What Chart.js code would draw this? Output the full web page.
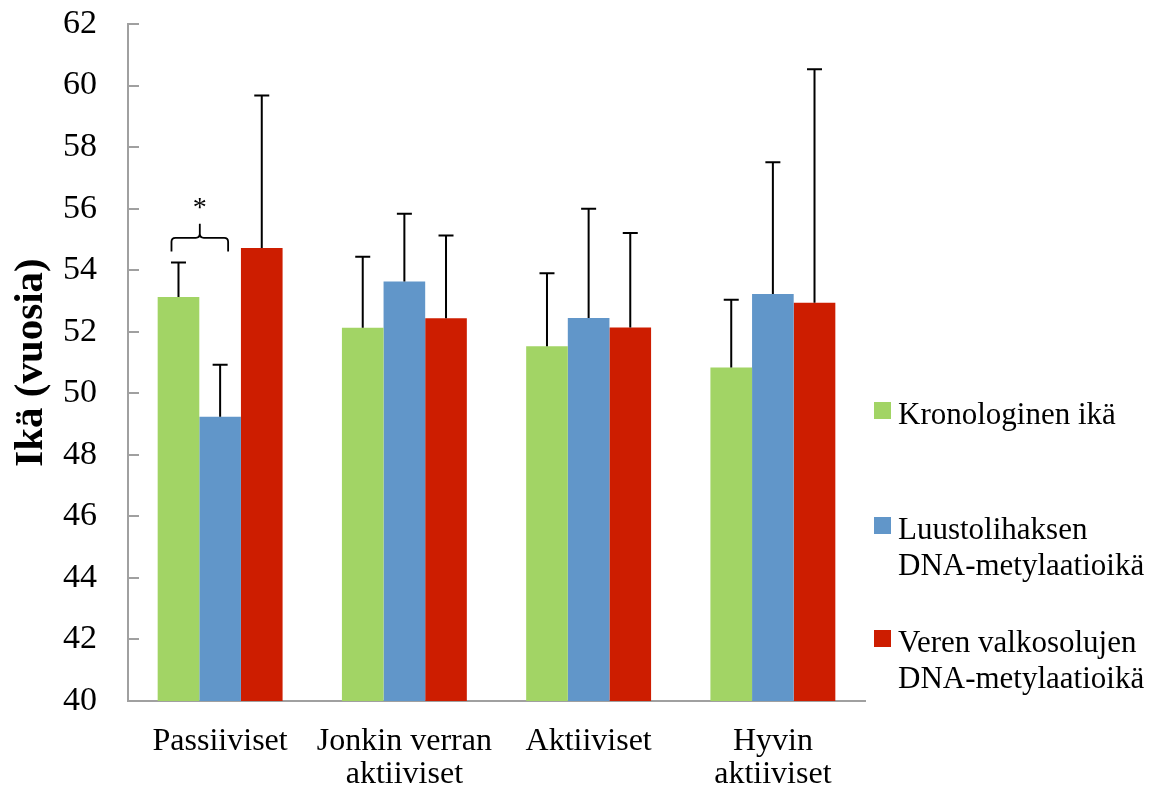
<!DOCTYPE html>
<html>
<head>
<meta charset="utf-8">
<script src="https://cdn.jsdelivr.net/npm/chart.js@4.4.1/dist/chart.umd.min.js"></script>
<style>
  html, body { margin: 0; padding: 0; background: #ffffff; }
  #wrap { width: 1163px; height: 796px; position: relative; }
</style>
</head>
<body>
<div id="wrap"><canvas id="c" width="1163" height="796"></canvas></div>
<script>
// ---- data ----
const categories = [['Passiiviset'], ['Jonkin verran', 'aktiiviset'], ['Aktiiviset'], ['Hyvin', 'aktiiviset']];
const seriesNames = [['Kronologinen ikä'], ['Luustolihaksen', 'DNA-metylaatioikä'], ['Veren valkosolujen', 'DNA-metylaatioikä']];
const kronologinen = [53.13, 52.13, 51.53, 50.84];
const luusto = [49.24, 53.63, 52.45, 53.23];
const veri = [54.72, 52.44, 52.14, 52.94];
const kronologinenSD = [1.12, 2.31, 2.37, 2.20];
const luustoSD = [1.69, 2.20, 3.55, 4.28];
const veriSD = [4.96, 2.69, 3.07, 7.59];
const yTicks = [40, 42, 44, 46, 48, 50, 52, 54, 56, 58, 60, 62];
const yTitle = 'Ikä (vuosia)';
// significance bracket between series 0 and 1 of category 0 (values in years)
const sigCategory = 0;
const sigBracketLevel = 55.05;
const sigBracketFoot = 54.61;
const sigBracketPeak = 55.51;
const sigStarLevel = 56.16;
const sigLabel = '*';

const colors = ['#A2D465', '#6196C9', '#CD1D00'];
const SERIF = '"Liberation Serif", "Times New Roman", serif';

const errorBarsPlugin = {
  id: 'errorBars',
  afterDatasetsDraw(chart) {
    const ctx = chart.ctx;
    const y = chart.scales.y;
    ctx.save();
    ctx.strokeStyle = '#000';
    ctx.lineWidth = 2;
    chart.data.datasets.forEach((ds, di) => {
      const meta = chart.getDatasetMeta(di);
      meta.data.forEach((bar, i) => {
        const top = y.getPixelForValue(ds.data[i] + ds.sd[i]);
        ctx.beginPath();
        ctx.moveTo(bar.x, bar.y);
        ctx.lineTo(bar.x, top);
        ctx.moveTo(bar.x - 7.5, top);
        ctx.lineTo(bar.x + 7.5, top);
        ctx.stroke();
      });
    });
    // significance bracket
    const b0 = chart.getDatasetMeta(0).data[sigCategory];
    const b1 = chart.getDatasetMeta(1).data[sigCategory];
    const x0 = b0.x - 7, x1 = b1.x + 8, xm = (x0 + x1) / 2;
    const yl = y.getPixelForValue(sigBracketLevel);
    const yf = y.getPixelForValue(sigBracketFoot);
    const yp = y.getPixelForValue(sigBracketPeak);
    const r = 4;
    ctx.lineWidth = 1.8;
    ctx.beginPath();
    ctx.moveTo(x0, yf);
    ctx.lineTo(x0, yl + r);
    ctx.quadraticCurveTo(x0, yl, x0 + r, yl);
    ctx.lineTo(xm - r, yl);
    ctx.quadraticCurveTo(xm, yl, xm, yl - r);
    ctx.lineTo(xm, yp);
    ctx.moveTo(xm, yl - r);
    ctx.quadraticCurveTo(xm, yl, xm + r, yl);
    ctx.lineTo(x1 - r, yl);
    ctx.quadraticCurveTo(x1, yl, x1, yl + r);
    ctx.lineTo(x1, yf);
    ctx.stroke();
    ctx.fillStyle = '#000';
    ctx.font = '28px ' + SERIF;
    ctx.textAlign = 'center';
    ctx.textBaseline = 'middle';
    ctx.fillText(sigLabel, xm, y.getPixelForValue(sigStarLevel) + 5);
    ctx.restore();
  }
};

const innerTicksPlugin = {
  id: 'innerTicks',
  afterDraw(chart) {
    const y = chart.scales.y;
    const ctx = chart.ctx;
    ctx.save();
    ctx.strokeStyle = '#A0A0A0';
    ctx.lineWidth = 2;
    y.ticks.forEach(t => {
      const py = Math.round(y.getPixelForValue(t.value));
      ctx.beginPath();
      ctx.moveTo(chart.chartArea.left, py);
      ctx.lineTo(chart.chartArea.left + 11, py);
      ctx.stroke();
    });
    ctx.restore();
  }
};

const legendPlugin = {
  id: 'sideLegend',
  afterDraw(chart) {
    const ctx = chart.ctx;
    const sqX = 874, sq = 17, textX = 898, lineH = 36;
    const baselines = [424, 539, 652];
    ctx.save();
    ctx.font = '31px ' + SERIF;
    ctx.textBaseline = 'alphabetic';
    ctx.textAlign = 'left';
    chart.data.datasets.forEach((ds, i) => {
      const b = baselines[i];
      ctx.fillStyle = ds.backgroundColor;
      ctx.fillRect(sqX, b - 22, sq, sq);
      ctx.fillStyle = '#000';
      ds.legendLines.forEach((line, k) => ctx.fillText(line, textX, b + k * lineH));
    });
    ctx.restore();
  }
};

new Chart(document.getElementById('c'), {
  type: 'bar',
  data: {
    labels: categories,
    datasets: [
      { label: seriesNames[0].join(' '), legendLines: seriesNames[0], data: kronologinen, sd: kronologinenSD, backgroundColor: colors[0] },
      { label: seriesNames[1].join(' '), legendLines: seriesNames[1], data: luusto, sd: luustoSD, backgroundColor: colors[1] },
      { label: seriesNames[2].join(' '), legendLines: seriesNames[2], data: veri, sd: veriSD, backgroundColor: colors[2] }
    ]
  },
  options: {
    responsive: false,
    animation: false,
    devicePixelRatio: 1,
    layout: { padding: { left: 0, right: 298, top: 24, bottom: 0 } },
    datasets: { bar: { categoryPercentage: 0.678, barPercentage: 1.0, borderWidth: 0 } },
    plugins: { legend: { display: false }, tooltip: { enabled: false } },
    scales: {
      x: {
        grid: { display: true, drawOnChartArea: false, drawTicks: false },
        border: { display: true, color: '#A0A0A0', width: 2 },
        ticks: { color: '#000', font: { family: SERIF, size: 32, lineHeight: 1.04 }, padding: 24, maxRotation: 0, autoSkip: false },
        afterFit(scale) { scale.height = 95; scale.paddingLeft = 0; scale.paddingRight = 0; }
      },
      y: {
        min: 40, max: 62,
        afterBuildTicks(scale) { scale.ticks = yTicks.map(v => ({ value: v })); },
        grid: { display: true, drawOnChartArea: false, drawTicks: false },
        border: { display: true, color: '#A0A0A0', width: 2 },
        ticks: { color: '#000', font: { family: SERIF, size: 34 }, padding: 31 },
        title: { display: true, text: yTitle, color: '#000', font: { family: SERIF, size: 41, weight: 'bold', lineHeight: 1.0 }, padding: { top: 11, bottom: 0 } },
        afterFit(scale) { scale.width = 128; scale.paddingTop = 0; scale.paddingBottom = 0; }
      }
    }
  },
  plugins: [errorBarsPlugin, innerTicksPlugin, legendPlugin]
});
</script>
</body>
</html>
